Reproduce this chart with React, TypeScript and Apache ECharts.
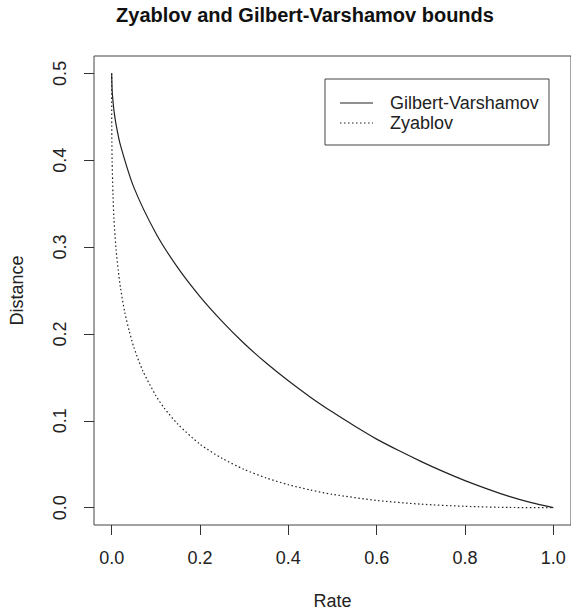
import React, { useEffect, useRef } from "react";
import * as echarts from "echarts";

const title = "Zyablov and Gilbert-Varshamov bounds";
const xName = "Rate";
const yName = "Distance";
const xTicks = [0, 0.2, 0.4, 0.6, 0.8, 1.0];
const yTicks = [0, 0.1, 0.2, 0.3, 0.4, 0.5];
const legendNames = ["Gilbert-Varshamov", "Zyablov"];

const gvRate = [0, 0.001, 0.002, 0.005, 0.01, 0.02, 0.05, 0.1, 0.15, 0.2, 0.25, 0.3, 0.35, 0.4, 0.45, 0.5, 0.55, 0.6, 0.65, 0.7, 0.75, 0.8, 0.85, 0.9, 0.95, 1.0];
const gvDist = [0.5, 0.481, 0.474, 0.458, 0.441, 0.417, 0.369, 0.316, 0.276, 0.243, 0.2145, 0.189, 0.1665, 0.146, 0.1272, 0.11, 0.094, 0.0789, 0.0657, 0.0533, 0.0417, 0.0311, 0.0216, 0.013, 0.0057, 0];

const zyRate = [0, 0.0002, 0.0005, 0.001, 0.003, 0.005, 0.01, 0.015, 0.02, 0.03, 0.04, 0.05, 0.07, 0.1, 0.12, 0.15, 0.2, 0.25, 0.3, 0.35, 0.4, 0.45, 0.5, 0.6, 0.7, 0.8, 0.9, 1.0];
const zyDist = [0.5, 0.44, 0.42, 0.4, 0.36, 0.334, 0.297, 0.273, 0.253, 0.224, 0.203, 0.185, 0.158, 0.129, 0.114, 0.096, 0.073, 0.0567, 0.044, 0.0342, 0.0264, 0.0203, 0.0153, 0.0083, 0.004, 0.0015, 0.0002, 0];

const FONT = "Liberation Sans, Arial, Helvetica, sans-serif";
const INK = "#222";

export default function App() {
  const ref = useRef<HTMLDivElement>(null);
  useEffect(() => {
    if (!ref.current) return;
    const chart = echarts.init(ref.current, undefined, { renderer: "svg" });
    const gvData = gvRate.map((r, i) => [r, gvDist[i]]);
    const zyData = zyRate.map((r, i) => [r, zyDist[i]]);
    chart.setOption({
      animation: false,
      backgroundColor: "#fff",
      textStyle: { fontFamily: FONT },
      grid: {
        left: 94,
        top: 56,
        width: 480,
        height: 470.5,
        show: true,
        borderColor: "#444",
        borderWidth: 1,
        backgroundColor: "transparent",
      },
      xAxis: {
        type: "value",
        min: -0.04,
        max: 1.04,
        name: xName,
        nameLocation: "middle",
        nameGap: 67,
        nameTextStyle: { fontSize: 18, color: INK, fontFamily: FONT },
        splitLine: { show: false },
        axisLine: { show: false, onZero: false },
        axisTick: {
          show: true,
          length: 10,
          customValues: xTicks,
          lineStyle: { color: "#333", width: 1 },
        },
        axisLabel: {
          customValues: xTicks,
          formatter: (v: number) => v.toFixed(1),
          fontSize: 18,
          color: INK,
          margin: 24,
          fontFamily: FONT,
        },
      },
      yAxis: {
        type: "value",
        min: -0.02,
        max: 0.52,
        name: yName,
        nameLocation: "middle",
        nameGap: 68,
        nameRotate: 90,
        nameTextStyle: { fontSize: 18, color: INK, fontFamily: FONT },
        splitLine: { show: false },
        axisLine: { show: false, onZero: false },
        axisTick: {
          show: true,
          length: 10,
          customValues: yTicks,
          lineStyle: { color: "#333", width: 1 },
        },
        axisLabel: {
          customValues: yTicks,
          formatter: (v: number) => v.toFixed(1),
          rotate: 90,
          fontSize: 18,
          color: INK,
          margin: 25,
          fontFamily: FONT,
        },
      },
      series: [
        {
          name: legendNames[0],
          type: "line",
          data: gvData,
          symbol: "none",
          smooth: 0.25,
          lineStyle: { color: INK, width: 1.2, type: "solid" },
        },
        {
          name: legendNames[1],
          type: "line",
          data: zyData,
          symbol: "none",
          smooth: 0.25,
          lineStyle: { color: INK, width: 1.2, type: [1.5, 2.5] },
        },
      ],
      graphic: [
        {
          type: "text",
          x: 305,
          y: 15,
          style: {
            text: title,
            font: `bold 20px ${FONT}`,
            fill: "#111",
            textAlign: "center",
            textVerticalAlign: "middle",
          },
        },
        {
          type: "rect",
          shape: { x: 325, y: 79, width: 224, height: 66 },
          style: { fill: "#fff", stroke: "#444", lineWidth: 1 },
          z: 10,
        },
        {
          type: "line",
          shape: { x1: 340, y1: 103, x2: 373, y2: 103 },
          style: { stroke: INK, lineWidth: 1.2 },
          z: 11,
        },
        {
          type: "line",
          shape: { x1: 340, y1: 123, x2: 373, y2: 123 },
          style: { stroke: INK, lineWidth: 1.2, lineDash: [1.5, 2.5] },
          z: 11,
        },
        {
          type: "text",
          x: 390,
          y: 103,
          z: 11,
          style: {
            text: legendNames[0],
            font: `18px ${FONT}`,
            fill: INK,
            textAlign: "left",
            textVerticalAlign: "middle",
          },
        },
        {
          type: "text",
          x: 390,
          y: 123,
          z: 11,
          style: {
            text: legendNames[1],
            font: `18px ${FONT}`,
            fill: INK,
            textAlign: "left",
            textVerticalAlign: "middle",
          },
        },
      ],
    });
    return () => chart.dispose();
  }, []);
  return (
    <div
      ref={ref}
      style={{ position: "absolute", left: 0, top: 0, width: 571, height: 615, overflow: "hidden" }}
    />
  );
}
